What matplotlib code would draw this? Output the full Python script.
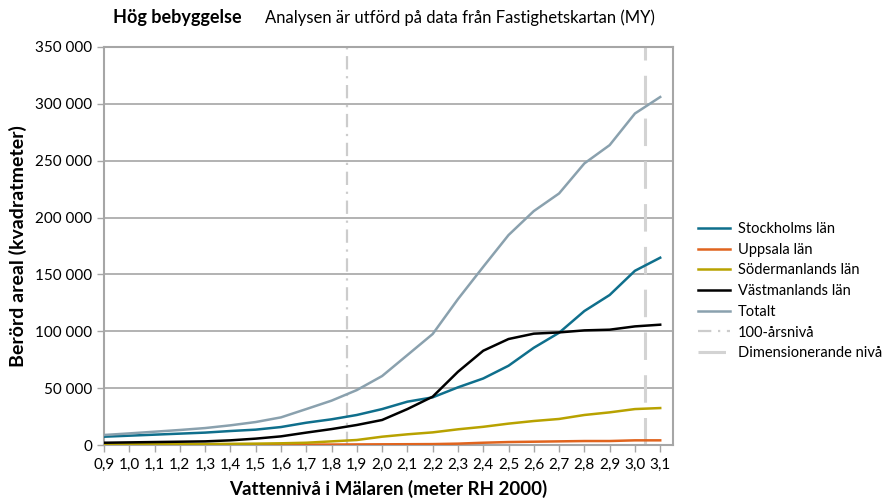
import matplotlib
matplotlib.use("Agg")
import matplotlib.pyplot as plt
from matplotlib.ticker import FuncFormatter

plt.rcParams['font.family'] = ['Lato', 'DejaVu Sans']

# Vattennivå (m RH 2000)
nivaer = [0.9, 1.0, 1.1, 1.2, 1.3, 1.4, 1.5, 1.6, 1.7, 1.8, 1.9, 2.0,
          2.1, 2.2, 2.3, 2.4, 2.5, 2.6, 2.7, 2.8, 2.9, 3.0, 3.1]

stockholm = [7300, 8200, 9100, 10000, 10900, 12300, 13500, 15800, 19600, 22600, 26400, 31600,
             38100, 41900, 50700, 58500, 69700, 85500, 98700, 117800, 131900, 153200, 164700]
uppsala = [100, 100, 150, 150, 200, 200, 250, 300, 350, 400, 500, 600,
           700, 800, 1200, 2000, 2600, 2900, 3200, 3500, 3500, 4100, 4100]
sodermanland = [500, 600, 700, 800, 900, 1000, 1200, 1500, 2000, 3200, 4400, 7300,
                9400, 11100, 13800, 16000, 18800, 21100, 22900, 26400, 28700, 31600, 32500]
vastmanland = [2000, 2300, 2600, 2900, 3200, 4100, 5600, 7600, 10900, 14000, 17600, 22000,
               31600, 42500, 64400, 82900, 93200, 97900, 99000, 100800, 101400, 104300, 105800]
totalt = [8800, 10200, 11700, 13200, 14900, 17300, 20200, 24300, 31600, 39000, 48300, 60650,
          79100, 97600, 128300, 156700, 184600, 205700, 221200, 247600, 263700, 291500, 306000]

niva_100ar = 1.86
niva_dim = 3.04

fig = plt.figure(figsize=(8.83, 5.03), dpi=100)
ax = fig.add_axes([0.1178, 0.1153, 0.6442, 0.7913])

grid_farg = '#a6a6a6'
ax.plot(nivaer, stockholm, color='#0f6f8c', lw=1.8, label='Stockholms län', zorder=3)
ax.plot(nivaer, uppsala, color='#e0641e', lw=1.8, label='Uppsala län', zorder=3)
ax.plot(nivaer, sodermanland, color='#b8a200', lw=1.8, label='Södermanlands län', zorder=3)
ax.plot(nivaer, vastmanland, color='#000000', lw=1.8, label='Västmanlands län', zorder=3)
ax.plot(nivaer, totalt, color='#8aa1ae', lw=1.8, label='Totalt', zorder=3)
ax.axvline(niva_100ar, color='#cccccc', lw=1.6, ls=(0, (6, 3, 1, 3)), label='100-årsnivå', zorder=2)
ax.axvline(niva_dim, color='#d3d3d3', lw=2.2, ls=(0, (9, 5)), label='Dimensionerande nivå', zorder=2)

ax.set_xlim(0.9, 3.15)
ax.set_ylim(0, 350000)
ax.set_xticks(nivaer)
ax.set_xticklabels([f"{v:.1f}".replace('.', ',') for v in nivaer])
ax.set_yticks(range(0, 350001, 50000))
ax.yaxis.set_major_formatter(FuncFormatter(lambda v, p: f"{int(v):,}".replace(',', ' ')))
ax.grid(axis='y', color=grid_farg, lw=1.2)
ax.set_axisbelow(True)
for s in ax.spines.values():
    s.set_color(grid_farg)
    s.set_linewidth(1.5)
ax.tick_params(axis='both', colors=grid_farg, labelcolor='black', labelsize=11, length=5, width=1)
ax.tick_params(axis='x', pad=4)

ax.set_ylabel('Berörd areal (kvadratmeter)', fontsize=14, fontweight='bold', labelpad=6)
ax.set_xlabel('Vattennivå i Mälaren (meter RH 2000)', fontsize=13.5, fontweight='bold', labelpad=6)

fig.text(0.128, 0.955, 'Hög bebyggelse', fontsize=13, fontweight='bold', va='baseline')
fig.text(0.300, 0.955, 'Analysen är utförd på data från Fastighetskartan (MY)', fontsize=12, va='baseline')

handles, labels = ax.get_legend_handles_labels()
fig.legend(handles, labels, loc='upper left', bbox_to_anchor=(0.790, 1 - 222 / 503),
           frameon=False, fontsize=10.5, handlelength=2.2, handletextpad=0.55,
           labelspacing=0.46, borderaxespad=0, borderpad=0)

fig.savefig('out.png', dpi=100)
